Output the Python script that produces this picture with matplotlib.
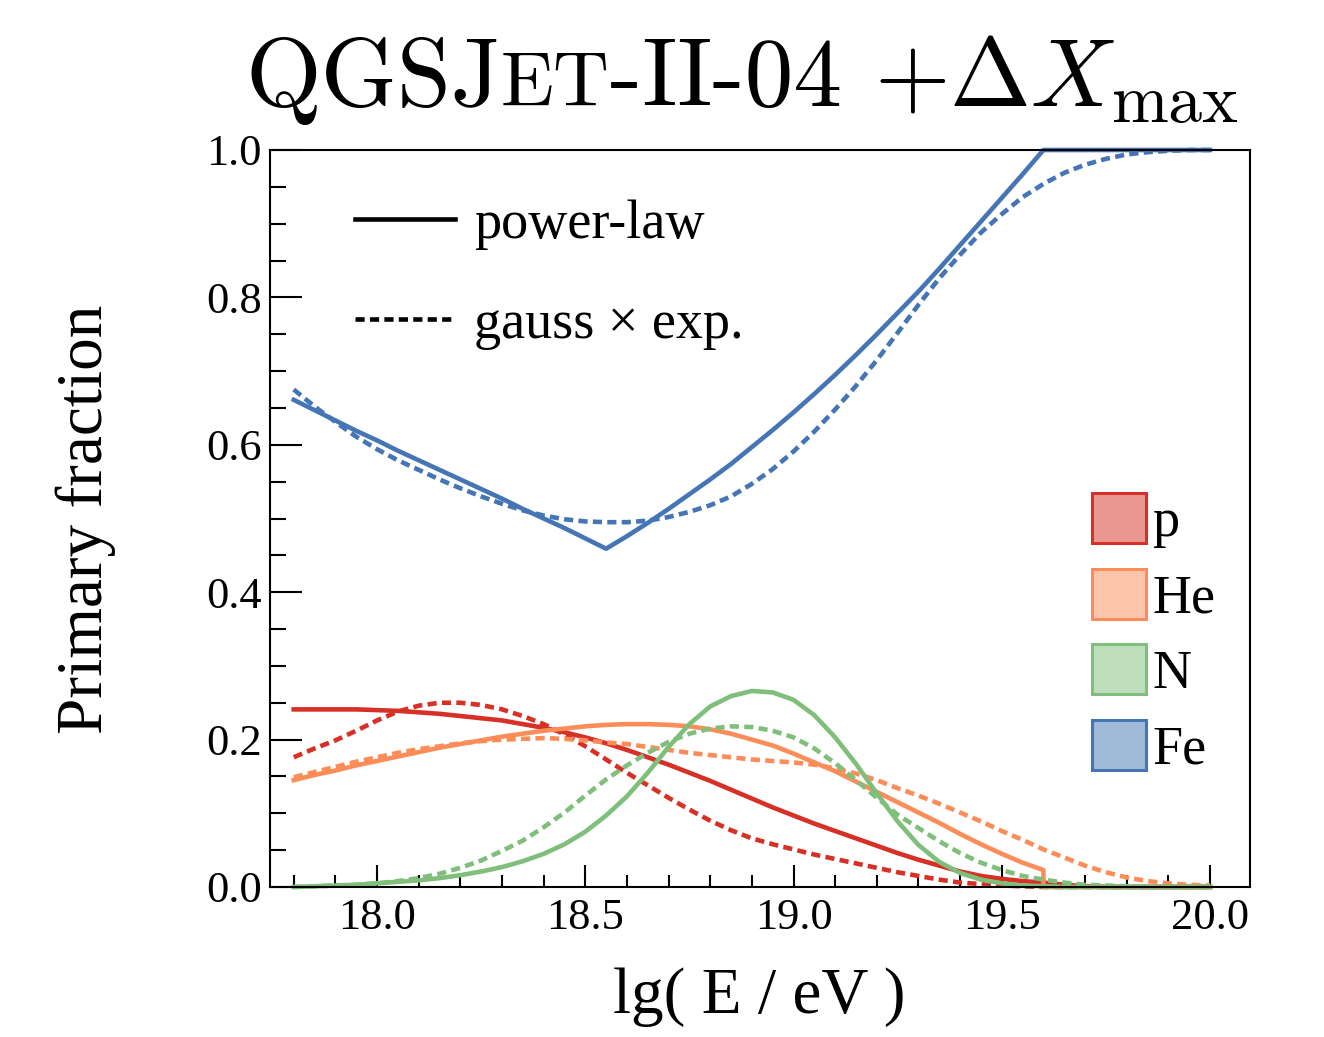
import numpy as np
import matplotlib
matplotlib.use("Agg")
from matplotlib import pyplot as plt
from matplotlib.lines import Line2D
from matplotlib.patches import Patch
from matplotlib.colors import to_rgba
from matplotlib.ticker import MultipleLocator, FormatStrFormatter

plt.rcParams['font.family'] = ['Liberation Serif', 'DejaVu Serif']
plt.rcParams['mathtext.fontset'] = 'cm'

# lg(E/eV) grid, 17.80 .. 20.00 in steps of 0.05
lgE = np.round(np.arange(17.8, 20.0001, 0.05), 2)

# proton fraction
p_pl = [0.241, 0.241, 0.241, 0.241, 0.240, 0.239, 0.237, 0.235, 0.232, 0.229,
        0.226, 0.221, 0.216, 0.210, 0.203, 0.195, 0.186, 0.176, 0.166, 0.155,
        0.144, 0.132, 0.120, 0.108, 0.097, 0.086, 0.076, 0.066, 0.056, 0.046,
        0.037, 0.029, 0.021, 0.015, 0.011, 0.008, 0.006, 0.003, 0.001, 0.0,
        0.0, 0.0, 0.0, 0.0, 0.0]
p_ge = [0.176, 0.188, 0.199, 0.212, 0.226, 0.238, 0.246, 0.250, 0.250, 0.247,
        0.241, 0.232, 0.221, 0.207, 0.191, 0.173, 0.155, 0.138, 0.121, 0.105,
        0.090, 0.077, 0.066, 0.058, 0.051, 0.044, 0.038, 0.032, 0.026, 0.020,
        0.015, 0.010, 0.006, 0.004, 0.002, 0.001, 0.0, 0.0, 0.0, 0.0,
        0.0, 0.0, 0.0, 0.0, 0.0]

# helium fraction (power-law is cut at 19.6)
lgE_he = list(lgE[:37]) + [19.6] + list(lgE[37:])
he_pl = [0.145, 0.152, 0.158, 0.165, 0.171, 0.177, 0.183, 0.189, 0.194, 0.199,
         0.204, 0.208, 0.212, 0.215, 0.218, 0.220, 0.221, 0.221, 0.220, 0.218,
         0.214, 0.208, 0.200, 0.192, 0.181, 0.169, 0.157, 0.143, 0.129, 0.115,
         0.101, 0.087, 0.072, 0.058, 0.045, 0.033, 0.023, 0.0, 0.0, 0.0,
         0.0, 0.0, 0.0, 0.0, 0.0, 0.0]
he_ge = [0.149, 0.156, 0.163, 0.170, 0.176, 0.182, 0.187, 0.191, 0.195, 0.198,
         0.200, 0.201, 0.202, 0.201, 0.199, 0.196, 0.194, 0.190, 0.186, 0.182,
         0.179, 0.176, 0.173, 0.171, 0.169, 0.166, 0.161, 0.154, 0.145, 0.134,
         0.124, 0.113, 0.101, 0.089, 0.076, 0.064, 0.051, 0.040, 0.029, 0.020,
         0.013, 0.008, 0.005, 0.003, 0.002]

# nitrogen fraction
n_pl = [0.000, 0.001, 0.002, 0.003, 0.005, 0.007, 0.009, 0.012, 0.016, 0.021,
        0.027, 0.035, 0.045, 0.058, 0.075, 0.097, 0.123, 0.155, 0.190, 0.221,
        0.245, 0.259, 0.266, 0.264, 0.254, 0.233, 0.203, 0.167, 0.127, 0.089,
        0.057, 0.034, 0.019, 0.010, 0.005, 0.002, 0.001, 0.0, 0.0, 0.0,
        0.0, 0.0, 0.0, 0.0, 0.0]
n_ge = [0.000, 0.001, 0.002, 0.003, 0.005, 0.008, 0.012, 0.018, 0.026, 0.036,
        0.049, 0.063, 0.081, 0.101, 0.124, 0.146, 0.165, 0.182, 0.197, 0.208,
        0.215, 0.218, 0.217, 0.212, 0.203, 0.188, 0.168, 0.145, 0.121, 0.098,
        0.080, 0.062, 0.046, 0.033, 0.023, 0.015, 0.010, 0.006, 0.003, 0.002,
        0.001, 0.0, 0.0, 0.0, 0.0]

# iron fraction
fe_pl = [0.661, 0.647, 0.633, 0.619, 0.606, 0.592, 0.579, 0.566, 0.553, 0.540,
         0.527, 0.513, 0.500, 0.487, 0.473, 0.459, 0.476, 0.494, 0.513, 0.533,
         0.553, 0.574, 0.597, 0.620, 0.644, 0.669, 0.695, 0.722, 0.750, 0.779,
         0.808, 0.839, 0.871, 0.903, 0.935, 0.967, 1.000, 1.000, 1.000, 1.000,
         1.000, 1.000, 1.000, 1.000, 1.000]
fe_ge = [0.675, 0.652, 0.631, 0.611, 0.594, 0.579, 0.566, 0.553, 0.541, 0.530,
         0.520, 0.511, 0.504, 0.499, 0.496, 0.495, 0.495, 0.497, 0.502, 0.509,
         0.518, 0.530, 0.547, 0.567, 0.591, 0.618, 0.648, 0.680, 0.715, 0.752,
         0.790, 0.826, 0.858, 0.888, 0.913, 0.936, 0.954, 0.969, 0.980, 0.988,
         0.994, 0.997, 0.999, 1.000, 1.000]

elements = ["p", "He", "N", "Fe"]
colors = ["#d73027", "#fc8d59", "#7fbf7b", "#4575b4"]
curves = [(lgE, p_pl, p_ge), (lgE_he, he_pl, he_ge), (lgE, n_pl, n_ge), (lgE, fe_pl, fe_ge)]

LW = 3.3
DOT = (0, (2.0, 1.15))

W, H = 1324, 1037
fig = plt.figure(figsize=(W / 100, H / 100), dpi=100)
ax = fig.add_axes([270 / W, 1 - 887 / H, 980 / W, 737 / H])

for (xpl, ypl, yge), c in zip(curves, colors):
    ax.plot(xpl, ypl, color=c, lw=LW, clip_on=False, solid_joinstyle='round')
    ax.plot(lgE, yge, color=c, lw=LW, ls=DOT, dash_capstyle='butt', clip_on=False)

ax.set_xlim(17.743, 20.096)
ax.set_ylim(0, 1)
ax.xaxis.set_major_locator(MultipleLocator(0.5))
ax.xaxis.set_minor_locator(MultipleLocator(0.1))
ax.yaxis.set_major_locator(MultipleLocator(0.2))
ax.yaxis.set_minor_locator(MultipleLocator(0.05))
ax.xaxis.set_major_formatter(FormatStrFormatter('%.1f'))
ax.yaxis.set_major_formatter(FormatStrFormatter('%.1f'))
ax.tick_params(which='both', direction='in', top=False, right=False, width=1.5, labelsize=32)
ax.tick_params(axis='x', which='major', length=16, pad=8)
ax.tick_params(axis='x', which='minor', length=8.6)
ax.tick_params(axis='y', which='major', length=23, pad=6)
ax.tick_params(axis='y', which='minor', length=11.5)
for s in ax.spines.values():
    s.set_linewidth(1.5)

fig.text(759 / W, 1 - 1013 / H, "lg( E / eV )", fontsize=47, ha='center', va='baseline')
fig.text(102 / W, 518 / H, "Primary fraction", fontsize=47, rotation=90,
         rotation_mode='anchor', ha='center', va='baseline')

# model legend
model_handles = [Line2D([], [], color='black', lw=LW),
                 Line2D([], [], color='black', lw=LW, ls=DOT, dash_capstyle='butt')]
leg1 = ax.legend(model_handles, ["power-law", u"gauss \u00d7 exp."], loc='upper left',
                 bbox_to_anchor=(0.087, 0.933), frameon=False, fontsize=39,
                 handlelength=1.85, handletextpad=0.35, labelspacing=0.92,
                 borderpad=0, borderaxespad=0)
ax.add_artist(leg1)

# element legend
elem_handles = [Patch(facecolor=to_rgba(c, 0.5), edgecolor=c, lw=2.2, joinstyle='round')
                for c in colors]
ax.legend(elem_handles, elements, loc='upper left', bbox_to_anchor=(0.839, 0.5346),
          frameon=False, fontsize=39, handlelength=1.0, handleheight=1.04,
          handletextpad=0.11, labelspacing=0.374, borderpad=0, borderaxespad=0)

# title in pieces so that "ET" can be set in small caps
title_parts = [("QGSJ", 70), ("ET", 56), ("-II-04 ", 70), (r"$+\Delta X_{\mathrm{max}}$", 70)]
renderer = fig.canvas.get_renderer()
x = 245
for s, size in title_parts:
    t = fig.text(x / W, 1 - 106 / H, s, fontsize=size, family='cmr10', ha='left', va='baseline')
    x += t.get_window_extent(renderer).width

fig.savefig("out.png", dpi=100)
